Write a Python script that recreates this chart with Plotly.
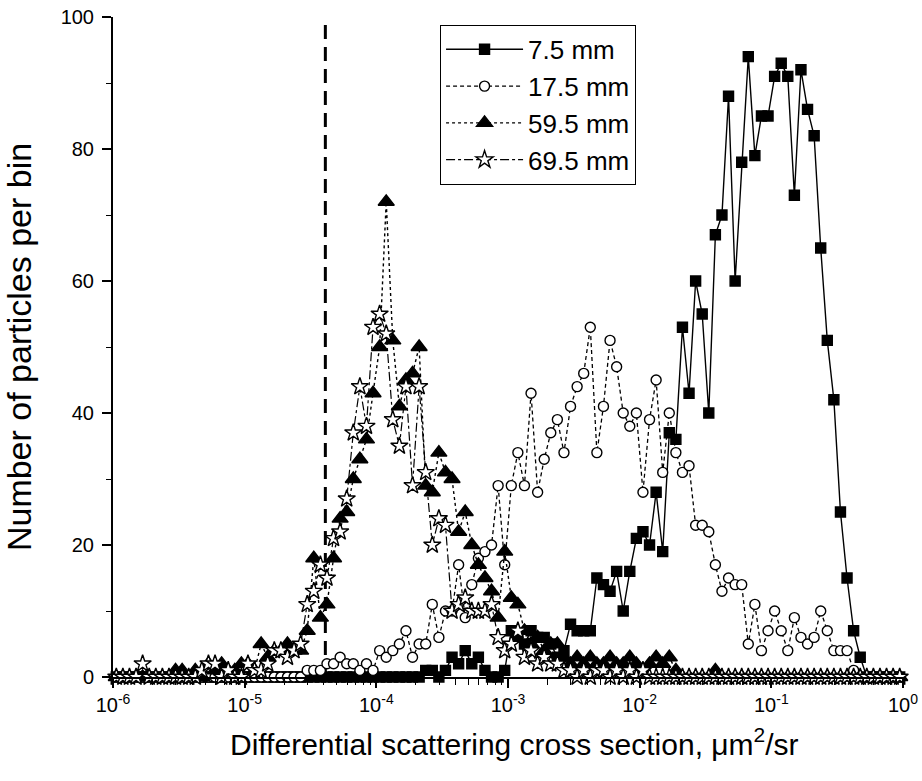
import numpy as np
import plotly.graph_objects as go

# ---- binning (logarithmic bins, 20 per decade, 1e-6 .. 1 um^2/sr) ----
bin_log_start = -6.0
bins_per_decade = 20
n_bins = 120
bin_centers = 10 ** (bin_log_start + (np.arange(n_bins) + 0.5) / bins_per_decade)

# ---- counts per bin ----
counts_7_5mm = [
    0, 0, 0, 0, 0, 0, 0, 0, 0, 0, 0, 0, 0, 0, 0, 0, 0, 0, 0, 0,
    0, 0, 0, 0, 0, 0, 0, 0, 0, 0, 0, 0, 0, 0, 0, 0, 0, 0, 0, 0,
    0, 0, 0, 0, 0, 0, 0, 1, 1, 0, 1, 3, 2, 4, 2, 3, 1, 0, 0, 1,
    7, 6, 5, 7, 6, 6, 5, 3, 4, 8, 7, 7, 7, 15, 14, 13, 16, 10, 16, 21,
    22, 20, 28, 19, 37, 36, 53, 43, 60, 55, 40, 67, 70, 88, 60, 78, 94, 79, 85, 85,
    91, 93, 91, 73, 92, 86, 82, 65, 51, 42, 25, 15, 7, 3, 0, 0, 0, 0, 0, 0,
]
counts_17_5mm = [
    0, 0, 0, 0, 0, 0, 0, 0, 0, 0, 0, 0, 0, 0, 0, 0, 0, 0, 0, 0,
    0, 0, 0, 0, 0, 0, 0, 0, 0, 1, 1, 1, 2, 2, 3, 2, 2, 1, 2, 1,
    4, 3, 4, 5, 7, 3, 5, 5, 11, 6, 10, 10, 17, 9, 14, 18, 19, 20, 29, 17,
    29, 34, 29, 43, 28, 33, 37, 39, 34, 41, 44, 46, 53, 34, 41, 51, 47, 40, 38, 40,
    28, 39, 45, 31, 40, 34, 31, 32, 23, 23, 22, 17, 13, 15, 14, 14, 5, 11, 4, 7,
    10, 7, 4, 9, 6, 5, 6, 10, 7, 4, 4, 4, 1, 0, 0, 0, 0, 0, 0, 0,
]
counts_59_5mm = [
    0, 0, 0, 0, 0, 0, 0, 0, 0, 1, 1, 0, 1, 0, 2, 1, 2, 1, 1, 2,
    2, 1, 5, 3, 4, 4, 5, 4, 4, 7, 18, 9, 11, 18, 24, 25, 30, 33, 36, 43,
    50, 72, 51, 41, 45, 46, 50, 29, 28, 34, 31, 30, 22, 25, 20, 17, 15, 13, 9, 19,
    12, 11, 7, 5, 6, 4, 5, 5, 3, 2, 3, 2, 3, 2, 2, 3, 2, 2, 3, 2,
    1, 2, 3, 2, 3, 1, 0, 0, 0, 0, 0, 1, 0, 0, 0, 0, 0, 0, 0, 0,
    0, 0, 0, 0, 0, 0, 0, 0, 0, 0, 0, 0, 0, 0, 0, 0, 0, 0, 0, 0,
]
counts_69_5mm = [
    0, 0, 0, 0, 2, 0, 0, 0, 0, 0, 0, 0, 0, 1, 2, 2, 0, 1, 0, 0,
    2, 1, 1, 2, 4, 4, 3, 4, 5, 11, 13, 17, 15, 21, 22, 27, 37, 44, 38, 53,
    55, 52, 39, 35, 44, 29, 44, 31, 20, 24, 23, 10, 11, 12, 10, 10, 10, 11, 6, 4,
    5, 7, 3, 4, 2, 3, 2, 2, 1, 1, 0, 1, 0, 1, 1, 0, 1, 0, 1, 0,
    1, 0, 0, 0, 0, 0, 0, 0, 0, 0, 0, 0, 0, 0, 0, 0, 0, 0, 0, 0,
    0, 0, 0, 0, 0, 0, 0, 0, 0, 0, 0, 0, 0, 0, 0, 0, 0, 0, 0, 0,
]

series_names = ["7.5 mm", "17.5 mm", "59.5 mm", "69.5 mm"]
threshold_x = 4.1e-5  # vertical dashed detection-limit line

x_tick_vals = [1e-6, 1e-5, 1e-4, 1e-3, 1e-2, 1e-1, 1e0]
x_tick_text = ["10<sup>-6</sup>", "10<sup>-5</sup>", "10<sup>-4</sup>", "10<sup>-3</sup>",
               "10<sup>-2</sup>", "10<sup>-1</sup>", "10<sup>0</sup>"]
y_tick_vals = [0, 20, 40, 60, 80, 100]

FONT = "Liberation Sans, Arial, sans-serif"

styles = [
    dict(dash="solid", symbol="square", size=10, color="black", lw=1.4),
    dict(dash="4px,3px", symbol="circle", size=10, color="white", lw=1.3),
    dict(dash="dot", symbol="triangle-up", size=14, color="black", lw=1.4),
    dict(dash="dashdot", symbol="star", size=13, color="white", lw=1.2),
]
all_counts = [counts_7_5mm, counts_17_5mm, counts_59_5mm, counts_69_5mm]

fig = go.Figure()

# dashed vertical line
fig.add_trace(go.Scatter(
    x=[threshold_x, threshold_x], y=[0, 100], mode="lines",
    line=dict(color="black", width=3, dash="14px,8px"),
    showlegend=False, hoverinfo="skip"))

for i, (name, counts, st) in enumerate(zip(series_names, all_counts, styles)):
    fig.add_trace(go.Scatter(
        x=bin_centers, y=counts, name=name, mode="lines+markers",
        legendgroup=f"g{i}",
        cliponaxis=False,
        line=dict(color="black", width=st["lw"], dash=st["dash"]),
        marker=dict(symbol=st["symbol"], size=st["size"], color=st["color"],
                    line=dict(color="black", width=1.4)),
    ))

fig.update_layout(
    template="none",
    width=922, height=781,
    margin=dict(l=113, r=19, t=17, b=104),
    paper_bgcolor="white", plot_bgcolor="white",
    font=dict(family=FONT, color="black", size=20),
    showlegend=True,
    legend=dict(
        x=0.414, y=0.988, xanchor="left", yanchor="top",
        bordercolor="black", borderwidth=1, bgcolor="white",
        font=dict(family=FONT, size=26, color="black"),
        itemwidth=77, tracegroupgap=0,
    ),
    xaxis=dict(
        type="log", range=[-6, 0],
        tickmode="array", tickvals=x_tick_vals, ticktext=x_tick_text,
        ticks="outside", ticklen=9, tickwidth=1.5, tickcolor="black",
        ticklabelstandoff=0, ticklabeloverflow="allow",
        showline=True, linecolor="black", linewidth=2,
        showgrid=False, zeroline=False,
        tickfont=dict(family=FONT, size=20),
        minor=dict(ticks="outside", ticklen=6, tickwidth=1.2, tickcolor="black",
                   tickvals=[m * 10 ** e for e in range(-6, 0) for m in range(2, 10)],
                   showgrid=False),
    ),
    yaxis=dict(
        range=[0, 100],
        tickmode="array", tickvals=y_tick_vals,
        ticks="outside", ticklen=9, tickwidth=1.5, tickcolor="black",
        ticklabelstandoff=4, ticklabeloverflow="allow",
        showline=True, linecolor="black", linewidth=2,
        showgrid=False, zeroline=False,
        tickfont=dict(family=FONT, size=20),
        minor=dict(ticks="outside", ticklen=5, tickwidth=1.2, tickcolor="black",
                   tickvals=[10, 30, 50, 70, 90], showgrid=False),
        title=dict(text="Number of particles per bin", standoff=21,
                   font=dict(family=FONT, size=34)),
    ),
    annotations=[
        dict(text="Differential scattering cross section, \u03bcm<sup>2</sup>/sr",
             xref="paper", yref="paper", x=0.508, y=-0.0986,
             xanchor="center", yanchor="middle", showarrow=False,
             font=dict(family=FONT, size=30)),
    ],
)

# remove the browser's default 8 px body margin so the figure fills the window exactly
fig.write_html("out.html",
               config={"displayModeBar": False},
               post_script="document.body.style.margin='0';document.body.style.padding='0';")
